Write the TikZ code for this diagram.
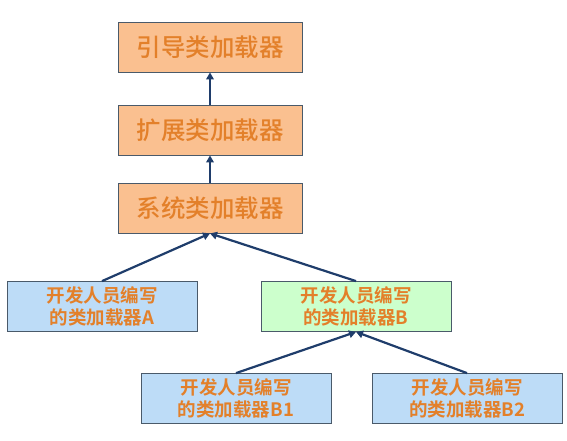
\documentclass[tikz,border=0pt]{standalone}
\usepackage{fontspec}
\newfontfamily\cjk{Noto Sans CJK SC Bold}
\newfontfamily\cjkm{Noto Sans CJK SC Medium}
\usetikzlibrary{arrows.meta}
\definecolor{orfill}{HTML}{FAC090}
\definecolor{bluefill}{HTML}{BDDCF7}
\definecolor{greenfill}{HTML}{CCFFCC}
\definecolor{txt}{HTML}{E3802A}
\definecolor{edge}{HTML}{4A5A6A}
\definecolor{arr}{HTML}{1F3D6B}
\tikzset{
  topbox/.style={draw=edge, line width=0.8pt, fill=orfill, minimum width=184pt, minimum height=50pt, inner sep=0pt, font=\cjkm\fontsize{24.5}{28}\selectfont, text=txt},
  devbox/.style={draw=edge, line width=0.8pt, minimum width=190pt, minimum height=50pt, inner sep=0pt, align=center, font=\cjk\fontsize{18.5}{21.5}\selectfont, text=txt},
  link/.style={draw=arr, line width=2.2pt, -{Triangle[length=7pt,width=7.5pt]}}
}
\begin{document}
\begin{tikzpicture}[x=1pt,y=-1pt]
\useasboundingbox (0,0) rectangle (567,440);
\node[topbox] (boot) at (210,47) {引导类加载器};
\node[topbox] (ext) at (210,130) {扩展类加载器};
\node[topbox] (sys) at (210,208) {系统类加载器};
\node[devbox, fill=bluefill] (a) at (102,306.5) {开发人员编写\\的类加载器A};
\node[devbox, fill=greenfill] (b) at (356,306.5) {开发人员编写\\的类加载器B};
\node[devbox, fill=bluefill] (b1) at (236,398.5) {开发人员编写\\的类加载器B1};
\node[devbox, fill=bluefill] (b2) at (467,398.5) {开发人员编写\\的类加载器B2};
\draw[link] (ext.north) -- (boot.south);
\draw[link] (sys.north) -- (ext.south);
\draw[link] (a.north) -- (sys.south);
\draw[link] (b.north) -- (sys.south);
\draw[link] (b1.north) -- (b.south);
\draw[link] (b2.north) -- (b.south);
\end{tikzpicture}
\end{document}
